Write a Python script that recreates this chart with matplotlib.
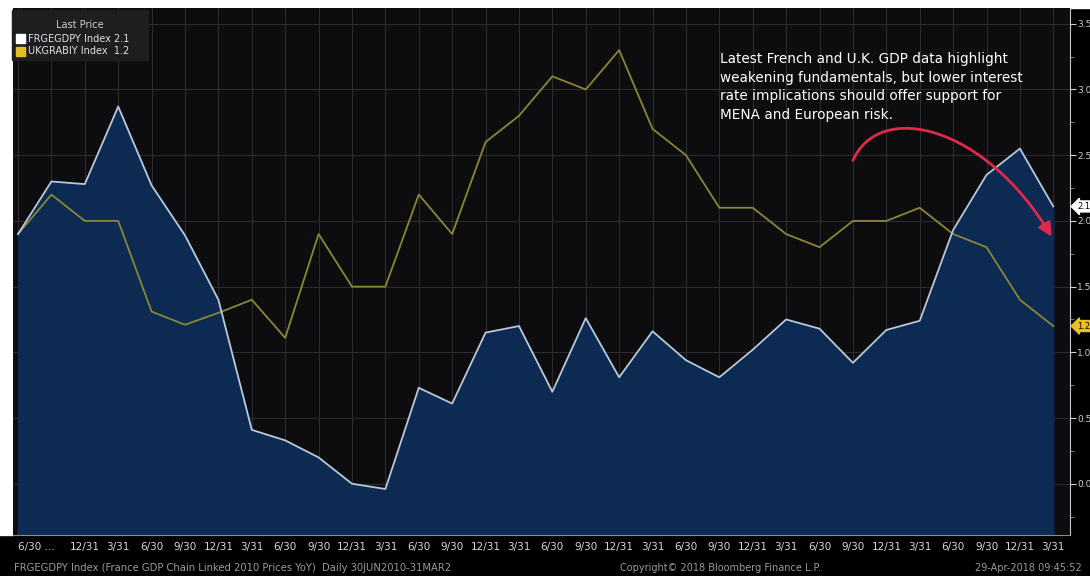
import numpy as np
import pandas as pd
import matplotlib
matplotlib.use('Agg')
import matplotlib.pyplot as plt
from matplotlib.patches import Rectangle, FancyArrowPatch
from matplotlib.path import Path

# quarterly dates 30 Jun 2010 .. 31 Mar 2018
dates = pd.date_range('2010-06-30', '2018-03-31', freq='QE')

france = [1.90, 2.30, 2.28, 2.87, 2.27, 1.89, 1.40, 0.41, 0.33, 0.20, 0.00, -0.04,
          0.73, 0.61, 1.15, 1.20, 0.70, 1.26, 0.81, 1.16, 0.94, 0.81, 1.02, 1.25,
          1.18, 0.92, 1.17, 1.24, 1.93, 2.35, 2.55, 2.11]
uk = [1.90, 2.20, 2.00, 2.00, 1.31, 1.21, 1.30, 1.40, 1.11, 1.90, 1.50, 1.50,
      2.20, 1.90, 2.60, 2.80, 3.10, 3.00, 3.30, 2.70, 2.50, 2.10, 2.10, 1.90,
      1.80, 2.00, 2.00, 2.10, 1.90, 1.80, 1.40, 1.20]

labels = ['%d/%d' % (d.month, d.day) for d in dates]
labels[0] = '6/30 ...'
labels[1] = ''

x = np.arange(len(dates))

fig = plt.figure(figsize=(10.9, 5.76), dpi=100, facecolor='black')
W, H = 1090, 576
ax = fig.add_axes([13 / W, 1 - 535 / H, (1070 - 13) / W, (535 - 8) / H])
ax.set_facecolor('#0d0d0f')

# white border top / left like the screenshot
fig.patches.append(Rectangle((0, 1 - 8 / H), 1, 8 / H, transform=fig.transFigure,
                             color='white', zorder=-1))
fig.patches.append(Rectangle((0, 1 - 535 / H), 13 / W, 535 / H, transform=fig.transFigure,
                             color='white', zorder=-1))

ax.fill_between(x, france, -1, color='#0c2a52', zorder=1)
ax.plot(x, france, color='#b9c7d8', lw=1.3, zorder=3)
ax.plot(x, uk, color='#8a8638', lw=1.3, zorder=2)

ax.set_xlim(-0.15, 31.5)
ax.set_ylim(-0.39, 3.62)

ax.set_xticks(x)
ax.set_xticklabels(labels, color='#d8d8d8', fontsize=7.5)
tl = ax.get_xticklabels()
tl[0].set_ha('left')
ax.tick_params(axis='x', direction='in', length=3, color='#9a9a9a', pad=5)

ax.yaxis.tick_right()
yt = np.arange(0, 3.51, 0.5)
ax.set_yticks(yt)
ax.set_yticklabels(['%.1f' % v for v in yt])
ax.set_yticks(np.arange(-0.25, 3.6, 0.25), minor=True)
ax.tick_params(axis='y', which='major', direction='out', length=4, color='#cfcfcf',
               labelcolor='#cfcfcf', labelsize=6.5, pad=1)
ax.tick_params(axis='y', which='minor', direction='out', length=3, color='#8a8a8a')

ax.grid(True, which='major', color='#2c2c30', lw=0.8, zorder=0)
ax.set_axisbelow(True)
for s in ['top', 'left']:
    ax.spines[s].set_visible(False)
ax.spines['right'].set_color('#c8c8c8')
ax.spines['bottom'].set_color('#8a8a8a')

# legend box
fig.patches.append(Rectangle((12 / W, 1 - 60 / H), 136 / W, 50 / H, transform=fig.transFigure,
                             color='#1e1e20', zorder=5))
fig.patches.append(Rectangle((16 / W, 1 - 43 / H), 9 / W, 9 / H, transform=fig.transFigure,
                             color='white', zorder=6))
fig.patches.append(Rectangle((16 / W, 1 - 56 / H), 9 / W, 9 / H, transform=fig.transFigure,
                             color='#e0c020', zorder=6))
fig.text(80 / W, 1 - 25 / H, 'Last Price', color='#d0d0d0', fontsize=7, ha='center',
         va='center', zorder=10)
fig.text(28 / W, 1 - 38.5 / H, 'FRGEGDPY Index 2.1', color='#e0e0e0', fontsize=7,
         va='center', zorder=10)
fig.text(28 / W, 1 - 51.5 / H, 'UKGRABIY Index  1.2', color='#e0e0e0', fontsize=7,
         va='center', zorder=10)

# commentary
ax.text(720 / W, 1 - 52 / H, 'Latest French and U.K. GDP data highlight\n'
        'weakening fundamentals, but lower interest\n'
        'rate implications should offer support for\n'
        'MENA and European risk.', transform=fig.transFigure,
        color='white', fontsize=9.8, va='top', ha='left', linespacing=1.42, zorder=6)

# curved red arrow (cubic bezier)
arc = Path([(25.0, 2.46), (25.8, 2.92), (28.95, 2.73), (30.95, 1.88)],
           [Path.MOVETO, Path.CURVE4, Path.CURVE4, Path.CURVE4])
arrow = FancyArrowPatch(path=arc, arrowstyle='-|>,head_length=8,head_width=4',
                        color='#e0284a', lw=2, transform=ax.transData, zorder=7)
ax.add_patch(arrow)

# last value tags on the right axis
ax.annotate('2.1', xy=(1.0, france[-1]), xycoords=('axes fraction', 'data'),
            xytext=(5, 0), textcoords='offset points', fontsize=6, color='black',
            va='center', ha='left',
            bbox=dict(boxstyle='larrow,pad=0.12', fc='white', ec='white'), annotation_clip=False)
ax.annotate('1.2', xy=(1.0, uk[-1]), xycoords=('axes fraction', 'data'),
            xytext=(5, 0), textcoords='offset points', fontsize=6, color='black',
            va='center', ha='left',
            bbox=dict(boxstyle='larrow,pad=0.12', fc='#e8c020', ec='#e8c020'), annotation_clip=False)

# footer
fig.text(14 / W, 1 - 568 / H, 'FRGEGDPY Index (France GDP Chain Linked 2010 Prices YoY)  Daily 30JUN2010-31MAR2',
         color='#9a9a9a', fontsize=7.2, va='center')
fig.text(620 / W, 1 - 568 / H, 'Copyright\u00a9 2018 Bloomberg Finance L.P.',
         color='#9a9a9a', fontsize=7, va='center')
fig.text(975 / W, 1 - 568 / H, '29-Apr-2018 09:45:52',
         color='#9a9a9a', fontsize=7, va='center')

fig.savefig('out.png', dpi=100, facecolor='black')
